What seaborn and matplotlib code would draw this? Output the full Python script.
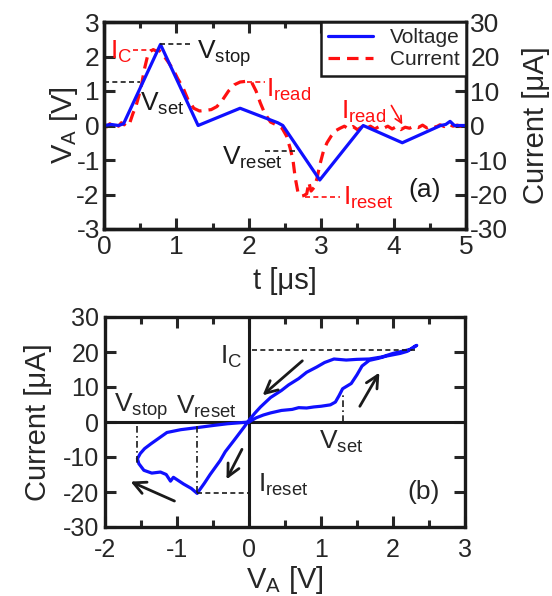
import numpy as np
import pandas as pd
import matplotlib
matplotlib.use("Agg")
import matplotlib.pyplot as plt
from matplotlib.ticker import MultipleLocator
from matplotlib.lines import Line2D
import seaborn as sns

# (a) time traces
t_volt = [0.0, 0.1, 0.2, 0.27, 0.78, 1.30, 1.88, 2.40, 2.47, 2.98, 3.58, 4.12, 4.65, 4.72, 4.78, 4.84, 5.0]
volt = [0.0, 0.03, 0.0, 0.05, 2.35, 0.0, 0.5, 0.08, 0.0, -1.58, 0.0, -0.5, 0.0, 0.03, 0.12, 0.0, 0.0]

t_curr = [0.00, 0.04, 0.08, 0.12, 0.16, 0.20, 0.24, 0.28, 0.32, 0.36, 0.40, 0.44, 0.48, 0.52,
          0.56, 0.60, 0.64, 0.68, 0.72, 0.76, 0.80, 0.85, 0.90, 0.96, 1.02, 1.09, 1.16, 1.24,
          1.32, 1.40, 1.48, 1.56, 1.64, 1.72, 1.80, 1.88, 1.96, 2.04, 2.10, 2.16, 2.22, 2.30,
          2.38, 2.46, 2.52, 2.57, 2.61, 2.64, 2.68, 2.72, 2.76, 2.80, 2.83, 2.86, 2.90, 2.94,
          2.98, 3.03, 3.08, 3.14, 3.20, 3.26, 3.32, 3.38, 3.44, 3.50, 3.56, 3.62, 3.68, 3.74,
          3.80, 3.86, 3.92, 3.98, 4.04, 4.10, 4.16, 4.22, 4.28, 4.34, 4.40, 4.46, 4.52, 4.58,
          4.64, 4.70, 4.76, 4.82, 4.88, 4.94, 5.00]
curr = [0.3, -0.4, 0.5, -0.3, 0.6, -0.2, 0.8, 0.2, 1.5, 1.0, 3.5, 5.5, 8.5, 12.0,
        16.5, 20.0, 21.5, 22.0, 21.6, 21.8, 21.0, 19.5, 18.0, 16.0, 13.5, 11.0, 7.5, 5.0,
        4.2, 4.4, 4.6, 5.5, 7.5, 10.0, 11.8, 12.6, 12.8, 12.5, 10.0, 6.5, 3.5, 1.0,
        0.2, -0.8, -3.0, -6.5, -10.0, -15.0, -19.5, -20.5, -20.3, -19.8, -16.5, -19.0, -18.0, -15.5,
        -11.5, -7.5, -5.0, -3.0, -1.5, -0.8, -0.2, -1.0, -0.3, -1.2, -0.4, -0.9, -0.2, -1.0,
        -0.3, -0.8, -0.2, -1.0, -0.3, -1.2, -0.5, -0.8, -0.2, -0.6, 0.1, -0.7, 0.0, -0.5,
        0.2, -0.3, 0.4, -0.2, 0.1, -0.3, 0.0]

# (b) I-V loop, in time order
loop_v = [0.0, 0.1, 0.2, 0.3, 0.45, 0.6, 0.69, 0.8, 0.9, 1.0, 1.13, 1.2, 1.25, 1.3, 1.42, 1.5,
          1.57, 1.67, 1.8, 1.9, 2.0, 2.1, 2.2, 2.3, 2.33,
          2.25, 2.15, 2.0, 1.85, 1.67, 1.5, 1.35, 1.18, 1.05, 0.94, 0.8, 0.69, 0.55, 0.45,
          0.3, 0.16, 0.08, 0.0,
          -0.07, -0.21, -0.33, -0.4, -0.54, -0.62, -0.72, -0.8, -0.91, -1.05, -1.09, -1.15,
          -1.23, -1.35, -1.46, -1.53, -1.55, -1.51, -1.45, -1.36, -1.25, -1.14, -0.95, -0.72,
          -0.5, -0.3, -0.12, 0.0]
loop_i = [0.0, 1.2, 2.0, 2.6, 3.3, 3.6, 4.1, 4.0, 4.3, 4.5, 4.9, 5.7, 7.5, 9.5, 11.0, 13.5,
          16.0, 17.6, 18.2, 18.8, 19.2, 19.6, 20.2, 21.6, 21.9,
          20.8, 20.3, 19.6, 18.6, 18.0, 17.9, 17.7, 18.0, 17.0, 15.7, 14.2, 12.4, 10.6, 9.0,
          7.0, 4.3, 2.5, 0.5,
          -1.5, -5.3, -8.5, -11.0, -15.0, -17.5, -20.4, -19.0, -17.7, -15.8, -16.9, -15.0,
          -14.3, -14.6, -13.8, -11.9, -10.5, -9.0, -7.6, -6.2, -4.6, -3.0, -2.2, -1.6,
          -1.0, -0.5, -0.2, 0.0]

V_set, V_stop_a, V_reset_a = 1.27, 2.35, -0.73
I_c, I_read, I_reset = 22.0, 12.7, -20.7
Vb_set, Vb_stop, Vb_reset, Ib_c, Ib_reset = 1.31, -1.55, -0.72, 20.7, -20.3

sns.set_theme(style="ticks")
plt.rcParams["font.family"] = ["Liberation Sans", "DejaVu Sans"]
plt.rcParams["mathtext.default"] = "regular"
plt.rcParams["axes.unicode_minus"] = False

BLUE = "#1010ff"
RED = "#ff1010"
LW = 2.3
FS = 19      # annotations
TFS = 19     # tick labels
LFS = 21     # axis labels

fig = plt.figure(figsize=(5.52, 5.96), dpi=100)
ax1 = fig.add_axes([104 / 552, 1 - 229 / 596, 362 / 552, 207 / 596])
ax1r = ax1.twinx()
ax2 = fig.add_axes([105 / 552, 1 - 527 / 596, 360 / 552, 210 / 596])

# ---- panel (a)
df_v = pd.DataFrame({"t": t_volt, "V": volt})
df_i = pd.DataFrame({"t": t_curr, "I": curr})
sns.lineplot(data=df_i, x="t", y="I", ax=ax1r, color=RED, lw=LW, estimator=None, sort=False)
ax1r.lines[-1].set_dashes((3.6, 2.2))
sns.lineplot(data=df_v, x="t", y="V", ax=ax1, color=BLUE, lw=LW, estimator=None, sort=False)
ax1.set_zorder(ax1r.get_zorder() + 1)
ax1.patch.set_visible(False)

ax1.set_xlim(0, 5)
ax1.set_ylim(-3, 3)
ax1r.set_ylim(-30, 30)
ax1.xaxis.set_major_locator(MultipleLocator(1))
ax1.xaxis.set_minor_locator(MultipleLocator(0.5))
ax1.yaxis.set_major_locator(MultipleLocator(1))
ax1r.yaxis.set_major_locator(MultipleLocator(10))
ax1.set_xlabel("t [μs]", fontsize=LFS, labelpad=6)
ax1.set_ylabel("$V_A$ [V]", fontsize=LFS, labelpad=-3)
ax1r.set_ylabel("Current [μA]", fontsize=LFS, labelpad=10)

# annotations (a)
kd = dict(color="k", lw=1.2, ls=(0, (3, 2)))
rd = dict(color=RED, lw=1.2, ls=(0, (3, 2)))
ax1.plot([0, 0.5], [V_set, V_set], **kd)
ax1.plot([0.78, 1.21], [V_stop_a, V_stop_a], **kd)
ax1.plot([2.22, 2.68], [V_reset_a, V_reset_a], **kd)
ax1r.plot([0.4, 0.73], [I_c, I_c], **rd)
ax1r.plot([1.97, 2.22], [I_read, I_read], **rd)
ax1r.plot([2.78, 3.26], [I_reset, I_reset], **rd)

ax1.text(0.08, 2.12, "$I_C$", color=RED, fontsize=FS, va="center")
ax1.text(1.28, 2.07, "$V_{stop}$", color="k", fontsize=FS, va="center")
ax1.text(0.5, 0.62, "$V_{set}$", color="k", fontsize=FS, va="center")
ax1.text(2.24, 1.02, "$I_{read}$", color=RED, fontsize=FS, va="center")
ax1.text(1.63, -0.93, "$V_{reset}$", color="k", fontsize=FS, va="center")
ax1.text(3.3, -2.1, "$I_{reset}$", color=RED, fontsize=FS, va="center")
ax1.text(3.28, 0.4, "$I_{read}$", color=RED, fontsize=FS, va="center")
ax1.text(4.2, -1.88, "(a)", color="k", fontsize=FS, va="center")
ax1.annotate("", xy=(4.14, -0.04), xytext=(3.95, 0.65),
             arrowprops=dict(arrowstyle="->", color=RED, lw=1.2, mutation_scale=12))

handles = [Line2D([], [], color=BLUE, lw=LW),
           Line2D([], [], color=RED, lw=LW, dashes=(3.6, 2.2))]
leg = ax1.legend(handles, ["Voltage", "Current"], loc="upper right", fontsize=15,
                 frameon=True, fancybox=False, framealpha=1, edgecolor="k",
                 borderaxespad=0, handlelength=2.2, handletextpad=0.8,
                 borderpad=0.3, labelspacing=0.15)
leg.get_frame().set_linewidth(1.8)

# ---- panel (b)
df_loop = pd.DataFrame({"V": loop_v, "I": loop_i})
ax2.axhline(0, color="k", lw=2.2, zorder=1)
ax2.axvline(0, color="k", lw=2.2, zorder=1)
sns.lineplot(data=df_loop, x="V", y="I", ax=ax2, color=BLUE, lw=LW, estimator=None, sort=False)
ax2.set_xlim(-2, 3)
ax2.set_ylim(-30, 30)
ax2.xaxis.set_major_locator(MultipleLocator(1))
ax2.xaxis.set_minor_locator(MultipleLocator(0.5))
ax2.yaxis.set_major_locator(MultipleLocator(10))
ax2.set_xlabel("$V_A$ [V]", fontsize=LFS, labelpad=1)
ax2.set_ylabel("Current [μA]", fontsize=LFS, labelpad=8)

ax2.plot([0.04, 2.3], [Ib_c, Ib_c], **kd)
ax2.plot([Vb_set, Vb_set], [0, 7.6], color="k", lw=1.2, ls=(0, (4, 2, 1, 2)))
ax2.plot([Vb_stop, Vb_stop], [-1, -11.9], color="k", lw=1.2, ls=(0, (4, 2, 1, 2)))
ax2.plot([Vb_reset, Vb_reset], [-1, Ib_reset], color="k", lw=1.2, ls=(0, (4, 2, 1, 2)))
ax2.plot([Vb_reset, 0], [Ib_reset, Ib_reset], **kd)

ax2.text(-0.4, 18.5, "$I_C$", fontsize=FS, va="center")
ax2.text(-1.87, 4.3, "$V_{stop}$", fontsize=FS, va="center")
ax2.text(-1.02, 4.3, "$V_{reset}$", fontsize=FS, va="center")
ax2.text(0.97, -5.8, "$V_{set}$", fontsize=FS, va="center")
ax2.text(0.13, -18.0, "$I_{reset}$", fontsize=FS, va="center")
ax2.text(2.2, -20, "(b)", fontsize=FS, va="center")

arrows = [((0.77, 18.0), (0.16, 7.1)), ((-0.08, -7.1), (-0.33, -17.1)),
          ((-1.0, -22.9), (-1.68, -16.7)), ((1.52, 3.8), (1.83, 14.8))]
for start, end in arrows:
    ax2.annotate("", xy=end, xytext=start,
                 arrowprops=dict(arrowstyle="->", color="k", lw=2.0, mutation_scale=22))

for ax in (ax1, ax1r, ax2):
    for sp in ax.spines.values():
        sp.set_visible(True)
        sp.set_linewidth(2.4)
        sp.set_color("k")

ax1.tick_params(which="both", direction="in", width=2.2, labelsize=TFS, top=True, right=False, pad=3)
ax1.tick_params(axis="x", pad=4)
ax1.tick_params(which="major", length=8)
ax1.tick_params(which="minor", length=4)
ax1r.tick_params(which="both", direction="in", width=2.2, length=8, labelsize=TFS, pad=3)
ax2.tick_params(which="both", direction="in", width=2.2, labelsize=18, top=True, right=True, pad=4)
ax2.tick_params(axis="x", pad=8)
ax2.tick_params(which="major", length=8)
ax2.tick_params(which="minor", length=5)

fig.savefig("out.png", dpi=100)
